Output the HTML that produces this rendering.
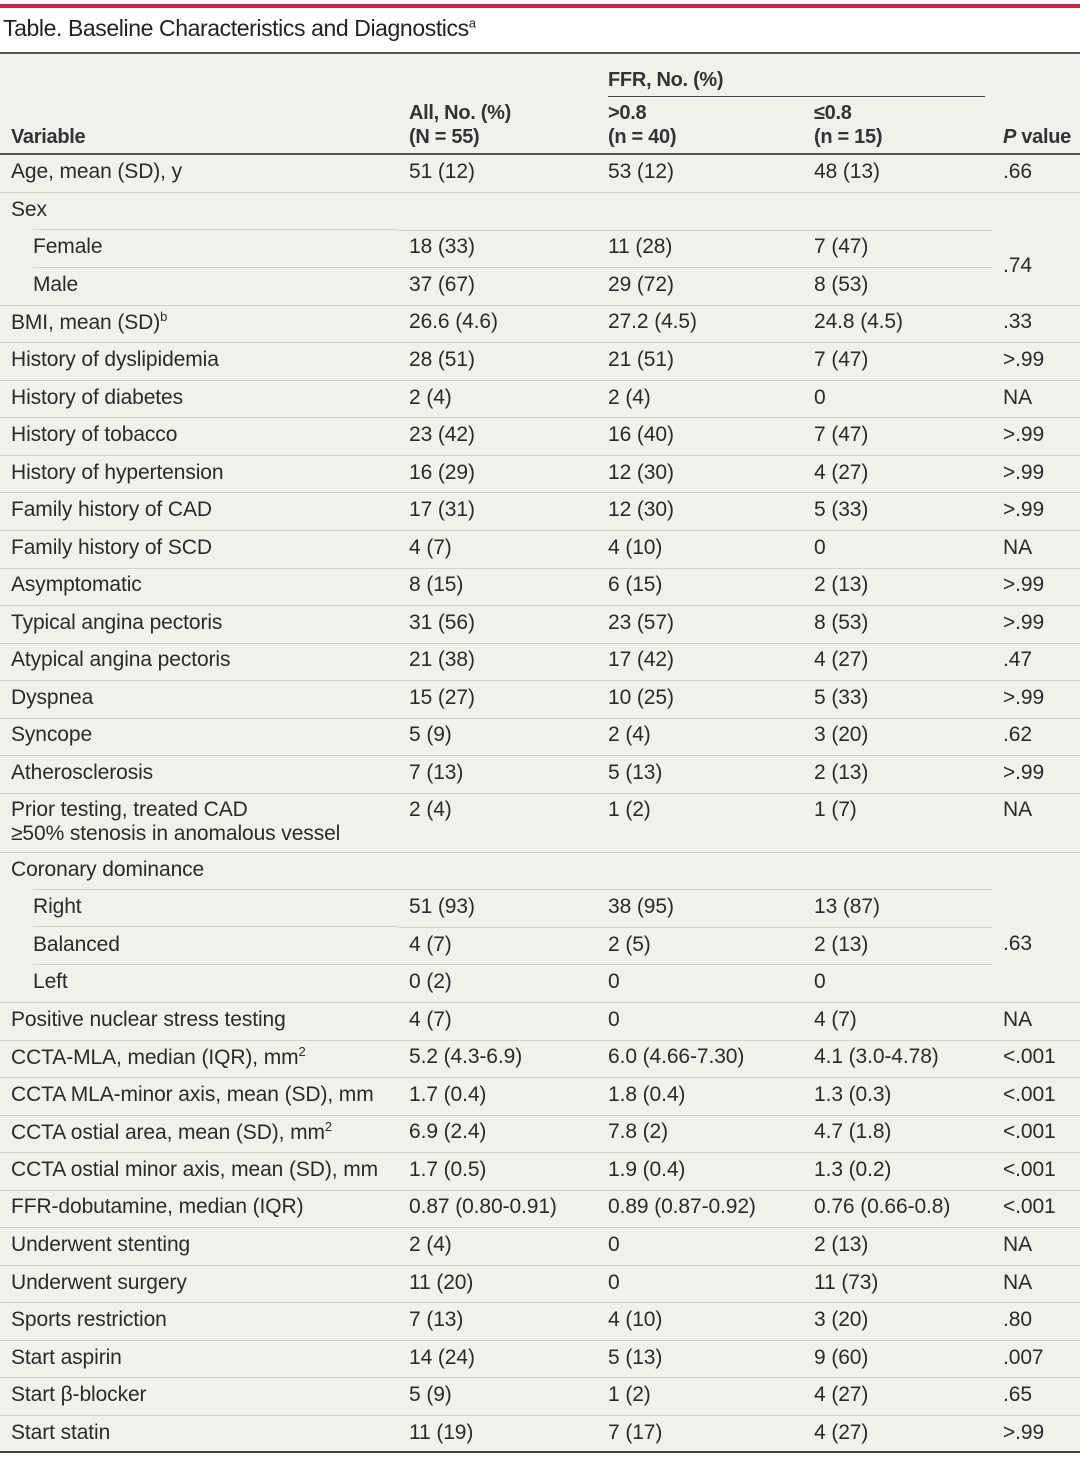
<!DOCTYPE html>
<html><head><meta charset="utf-8"><style>
*{margin:0;padding:0;box-sizing:border-box}
body{width:1080px;height:1458px;background:#fff;font-family:"Liberation Sans",sans-serif;color:#2a2a2a;position:relative;overflow:hidden}
.red{position:absolute;left:0;top:4px;width:1080px;height:4px;background:#d51f3c}
.title{position:absolute;left:3px;top:15px;font-size:23px;letter-spacing:-0.4px;color:#222}
.title sup{font-size:13px}
.bg{position:absolute;left:0;top:52px;width:1080px;height:1401px;background:#f1f1ec;border-top:2px solid #555;border-bottom:2px solid #444}
.hdr{position:absolute;font-size:20px;font-weight:bold;color:#333;line-height:24px;letter-spacing:-0.3px}
.hl{position:absolute;left:608px;top:96px;width:377px;height:1px;background:#444}
.hline{position:absolute;left:0;top:153px;width:1080px;height:2px;background:#555}
table{position:absolute;left:0;top:155px;width:1080px;border-collapse:collapse;font-size:21px;letter-spacing:-0.1px}
td{height:37.55px;vertical-align:middle;padding:0 0 3px 0;border-bottom:1px solid #d3d3cc;white-space:nowrap}
td.c1{width:398px;padding-left:11px}
td.c2{width:199px;padding-left:11px}
td.c3{width:206px;padding-left:11px}
td.c4{width:189px;padding-left:11px}
td.c5{padding-left:11px}
tr:last-child td{border-bottom:none}
td.in{padding-left:33px}
td.nb{border-bottom:none;background:linear-gradient(#d3d3cc,#d3d3cc) no-repeat 33px 100%/calc(100% - 33px) 1px}
tr.p td{vertical-align:top;padding-top:4px;height:59px;line-height:24px}
sup{font-size:13px}
</style></head><body>
<div class="red"></div>
<div class="title">Table. Baseline Characteristics and Diagnostics<sup>a</sup></div>
<div class="bg"></div>
<div class="hdr" style="left:11px;top:125px">Variable</div>
<div class="hdr" style="left:409px;top:101px">All, No. (%)<br>(N = 55)</div>
<div class="hdr" style="left:608px;top:68px">FFR, No. (%)</div>
<div class="hl"></div>
<div class="hdr" style="left:608px;top:101px">&gt;0.8<br>(n = 40)</div>
<div class="hdr" style="left:814px;top:101px">≤0.8<br>(n = 15)</div>
<div class="hdr" style="left:1003px;top:125px"><i>P</i> value</div>
<div class="hline"></div>
<table>
<tr><td class="c1">Age, mean (SD), y</td><td class="c2">51 (12)</td><td class="c3">53 (12)</td><td class="c4">48 (13)</td><td class="c5">.66</td></tr>
<tr><td class="c1 nb">Sex</td><td class="c2"></td><td class="c3"></td><td class="c4"></td><td class="c5" style="border-bottom:none"></td></tr>
<tr><td class="c1 in nb">Female</td><td class="c2">18 (33)</td><td class="c3">11 (28)</td><td class="c4">7 (47)</td><td class="c5" rowspan="2">.74</td></tr>
<tr><td class="c1 in">Male</td><td class="c2">37 (67)</td><td class="c3">29 (72)</td><td class="c4">8 (53)</td></tr>
<tr><td class="c1">BMI, mean (SD)<sup>b</sup></td><td class="c2">26.6 (4.6)</td><td class="c3">27.2 (4.5)</td><td class="c4">24.8 (4.5)</td><td class="c5">.33</td></tr>
<tr><td class="c1">History of dyslipidemia</td><td class="c2">28 (51)</td><td class="c3">21 (51)</td><td class="c4">7 (47)</td><td class="c5">&gt;.99</td></tr>
<tr><td class="c1">History of diabetes</td><td class="c2">2 (4)</td><td class="c3">2 (4)</td><td class="c4">0</td><td class="c5">NA</td></tr>
<tr><td class="c1">History of tobacco</td><td class="c2">23 (42)</td><td class="c3">16 (40)</td><td class="c4">7 (47)</td><td class="c5">&gt;.99</td></tr>
<tr><td class="c1">History of hypertension</td><td class="c2">16 (29)</td><td class="c3">12 (30)</td><td class="c4">4 (27)</td><td class="c5">&gt;.99</td></tr>
<tr><td class="c1">Family history of CAD</td><td class="c2">17 (31)</td><td class="c3">12 (30)</td><td class="c4">5 (33)</td><td class="c5">&gt;.99</td></tr>
<tr><td class="c1">Family history of SCD</td><td class="c2">4 (7)</td><td class="c3">4 (10)</td><td class="c4">0</td><td class="c5">NA</td></tr>
<tr><td class="c1">Asymptomatic</td><td class="c2">8 (15)</td><td class="c3">6 (15)</td><td class="c4">2 (13)</td><td class="c5">&gt;.99</td></tr>
<tr><td class="c1">Typical angina pectoris</td><td class="c2">31 (56)</td><td class="c3">23 (57)</td><td class="c4">8 (53)</td><td class="c5">&gt;.99</td></tr>
<tr><td class="c1">Atypical angina pectoris</td><td class="c2">21 (38)</td><td class="c3">17 (42)</td><td class="c4">4 (27)</td><td class="c5">.47</td></tr>
<tr><td class="c1">Dyspnea</td><td class="c2">15 (27)</td><td class="c3">10 (25)</td><td class="c4">5 (33)</td><td class="c5">&gt;.99</td></tr>
<tr><td class="c1">Syncope</td><td class="c2">5 (9)</td><td class="c3">2 (4)</td><td class="c4">3 (20)</td><td class="c5">.62</td></tr>
<tr><td class="c1">Atherosclerosis</td><td class="c2">7 (13)</td><td class="c3">5 (13)</td><td class="c4">2 (13)</td><td class="c5">&gt;.99</td></tr>
<tr class="p"><td class="c1">Prior testing, treated CAD<br>≥50% stenosis in anomalous vessel</td><td class="c2">2 (4)</td><td class="c3">1 (2)</td><td class="c4">1 (7)</td><td class="c5">NA</td></tr>
<tr><td class="c1 nb">Coronary dominance</td><td class="c2"></td><td class="c3"></td><td class="c4"></td><td class="c5" style="border-bottom:none"></td></tr>
<tr><td class="c1 in nb">Right</td><td class="c2">51 (93)</td><td class="c3">38 (95)</td><td class="c4">13 (87)</td><td class="c5" rowspan="3">.63</td></tr>
<tr><td class="c1 in nb">Balanced</td><td class="c2">4 (7)</td><td class="c3">2 (5)</td><td class="c4">2 (13)</td></tr>
<tr><td class="c1 in">Left</td><td class="c2">0 (2)</td><td class="c3">0</td><td class="c4">0</td></tr>
<tr><td class="c1">Positive nuclear stress testing</td><td class="c2">4 (7)</td><td class="c3">0</td><td class="c4">4 (7)</td><td class="c5">NA</td></tr>
<tr><td class="c1">CCTA-MLA, median (IQR), mm<sup>2</sup></td><td class="c2">5.2 (4.3-6.9)</td><td class="c3">6.0 (4.66-7.30)</td><td class="c4">4.1 (3.0-4.78)</td><td class="c5">&lt;.001</td></tr>
<tr><td class="c1">CCTA MLA-minor axis, mean (SD), mm</td><td class="c2">1.7 (0.4)</td><td class="c3">1.8 (0.4)</td><td class="c4">1.3 (0.3)</td><td class="c5">&lt;.001</td></tr>
<tr><td class="c1">CCTA ostial area, mean (SD), mm<sup>2</sup></td><td class="c2">6.9 (2.4)</td><td class="c3">7.8 (2)</td><td class="c4">4.7 (1.8)</td><td class="c5">&lt;.001</td></tr>
<tr><td class="c1">CCTA ostial minor axis, mean (SD), mm</td><td class="c2">1.7 (0.5)</td><td class="c3">1.9 (0.4)</td><td class="c4">1.3 (0.2)</td><td class="c5">&lt;.001</td></tr>
<tr><td class="c1">FFR-dobutamine, median (IQR)</td><td class="c2">0.87 (0.80-0.91)</td><td class="c3">0.89 (0.87-0.92)</td><td class="c4">0.76 (0.66-0.8)</td><td class="c5">&lt;.001</td></tr>
<tr><td class="c1">Underwent stenting</td><td class="c2">2 (4)</td><td class="c3">0</td><td class="c4">2 (13)</td><td class="c5">NA</td></tr>
<tr><td class="c1">Underwent surgery</td><td class="c2">11 (20)</td><td class="c3">0</td><td class="c4">11 (73)</td><td class="c5">NA</td></tr>
<tr><td class="c1">Sports restriction</td><td class="c2">7 (13)</td><td class="c3">4 (10)</td><td class="c4">3 (20)</td><td class="c5">.80</td></tr>
<tr><td class="c1">Start aspirin</td><td class="c2">14 (24)</td><td class="c3">5 (13)</td><td class="c4">9 (60)</td><td class="c5">.007</td></tr>
<tr><td class="c1">Start β-blocker</td><td class="c2">5 (9)</td><td class="c3">1 (2)</td><td class="c4">4 (27)</td><td class="c5">.65</td></tr>
<tr><td class="c1">Start statin</td><td class="c2">11 (19)</td><td class="c3">7 (17)</td><td class="c4">4 (27)</td><td class="c5">&gt;.99</td></tr>
</table>
</body></html>
